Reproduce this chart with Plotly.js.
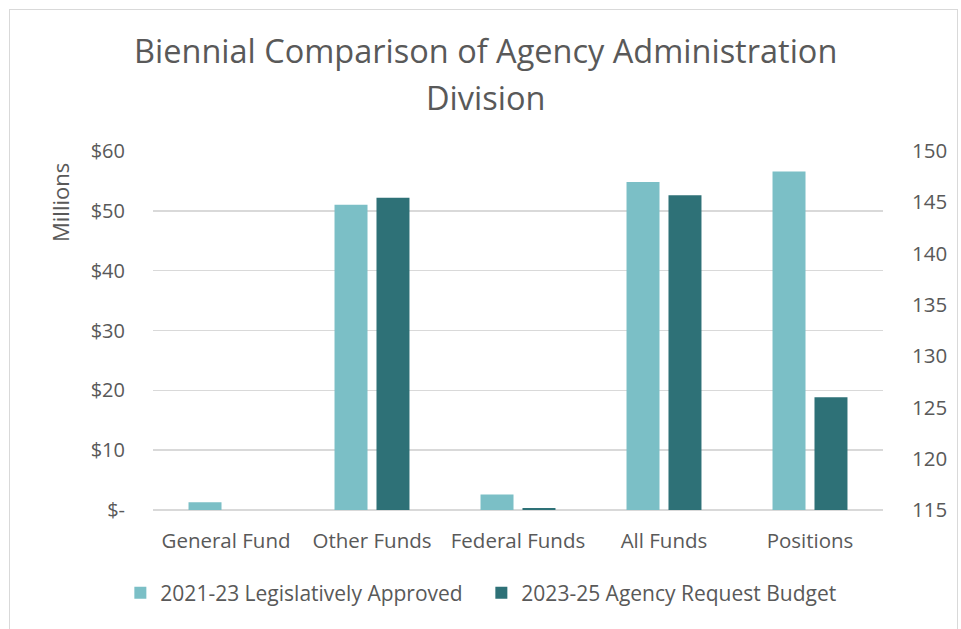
<!DOCTYPE html>
<html>
<head>
<meta charset="utf-8">
<script src="https://cdn.plot.ly/plotly-3.0.1.min.js"></script>
<style>
html,body{margin:0;padding:0;background:#fff;overflow:hidden;}
#frame{position:absolute;left:9px;top:9px;width:949px;height:640px;border:1px solid #d9d9d9;box-sizing:border-box;pointer-events:none;z-index:5;}
#chart{width:961px;height:629px;}
</style>
</head>
<body>
<div id="frame"></div>
<div id="chart"></div>
<script>
var fundCategories = ["General Fund", "Other Funds", "Federal Funds", "All Funds"];
var positionCategory = ["Positions"];
var seriesNames = ["2021-23 Legislatively Approved", "2023-25 Agency Request Budget"];
var approvedFunds = [1.3, 51.0, 2.6, 54.8];      // $ millions
var requestFunds = [0.0, 52.2, 0.33, 52.6];      // $ millions
var approvedPositions = [148];
var requestPositions = [126];
var leftTickVals = [0, 10, 20, 30, 40, 50, 60];
var leftTickText = ["$-", "$10", "$20", "$30", "$40", "$50", "$60"];
var rightTickVals = [115, 120, 125, 130, 135, 140, 145, 150];
var titleLines = ["Biennial Comparison of Agency Administration", "Division"];
var yTitle = "Millions";

var light = "#7bbfc6";
var dark = "#2e7177";
var textColor = "#595959";
var font = "Open Sans, sans-serif";
var allCats = fundCategories.concat(positionCategory);
var positionsBase = 115;

var traces = [
  {type: "bar", x: fundCategories, y: approvedFunds, name: seriesNames[0], marker: {color: light},
   offsetgroup: "a", legendgroup: "a", yaxis: "y"},
  {type: "bar", x: fundCategories, y: requestFunds, name: seriesNames[1], marker: {color: dark},
   offsetgroup: "b", legendgroup: "b", yaxis: "y"},
  {type: "bar", x: positionCategory, y: approvedPositions.map(function(v){return v - positionsBase;}),
   base: positionsBase, name: seriesNames[0], marker: {color: light},
   offsetgroup: "a", legendgroup: "a", showlegend: false, yaxis: "y2"},
  {type: "bar", x: positionCategory, y: requestPositions.map(function(v){return v - positionsBase;}),
   base: positionsBase, name: seriesNames[1], marker: {color: dark},
   offsetgroup: "b", legendgroup: "b", showlegend: false, yaxis: "y2"}
];

var layout = {
  width: 961, height: 629,
  margin: {l: 153, r: 78, t: 151, b: 119, autoexpand: false},
  paper_bgcolor: "#fff", plot_bgcolor: "#fff",
  font: {family: font, color: textColor, size: 20},
  barmode: "group", bargap: 0.425, bargroupgap: 0.214,
  xaxis: {type: "category", categoryorder: "array", categoryarray: allCats, automargin: false, tickangle: 0,
          showgrid: false, showline: false, zeroline: false, ticks: "", ticklabelstandoff: 16,
          tickfont: {family: font, size: 20.5, color: textColor}, fixedrange: true},
  yaxis: {range: [0, 60], tickvals: leftTickVals, ticktext: leftTickText, automargin: false,
          showgrid: true, gridcolor: "#d9d9d9", gridwidth: 1.5, zeroline: true, zerolinecolor: "#d9d9d9", zerolinewidth: 1.5,
          showline: false, ticks: "", ticklabelstandoff: 27,
          tickfont: {family: font, size: 20, color: textColor}, fixedrange: true},
  yaxis2: {range: [115, 150], tickvals: rightTickVals, overlaying: "y", side: "right", automargin: false,
           showgrid: false, zeroline: false, showline: false, ticks: "", ticklabelstandoff: 28,
           tickfont: {family: font, size: 20.5, color: textColor}, fixedrange: true},
  legend: {orientation: "h", x: 0.4498, xanchor: "center", y: -0.2312, yanchor: "middle",
           font: {family: font, size: 21, color: textColor}, itemwidth: 30, traceorder: "normal",
           entrywidth: 316, entrywidthmode: "pixels"},
  annotations: [
    {text: titleLines[0], xref: "paper", yref: "paper", x: 0.4548, y: 1.2813, xanchor: "center", yanchor: "middle",
     showarrow: false, font: {family: font, size: 32.5, color: textColor}},
    {text: titleLines[1], xref: "paper", yref: "paper", x: 0.4548, y: 1.1504, xanchor: "center", yanchor: "middle",
     showarrow: false, font: {family: font, size: 32.5, color: textColor}},
    {text: yTitle, xref: "paper", yref: "paper", x: -0.1274, y: 0.858, xanchor: "center", yanchor: "middle",
     textangle: -90, showarrow: false, font: {family: font, size: 22, color: textColor}}
  ],
  showlegend: true
};

Plotly.newPlot("chart", traces, layout, {displayModeBar: false, staticPlot: true});
</script>
</body>
</html>
